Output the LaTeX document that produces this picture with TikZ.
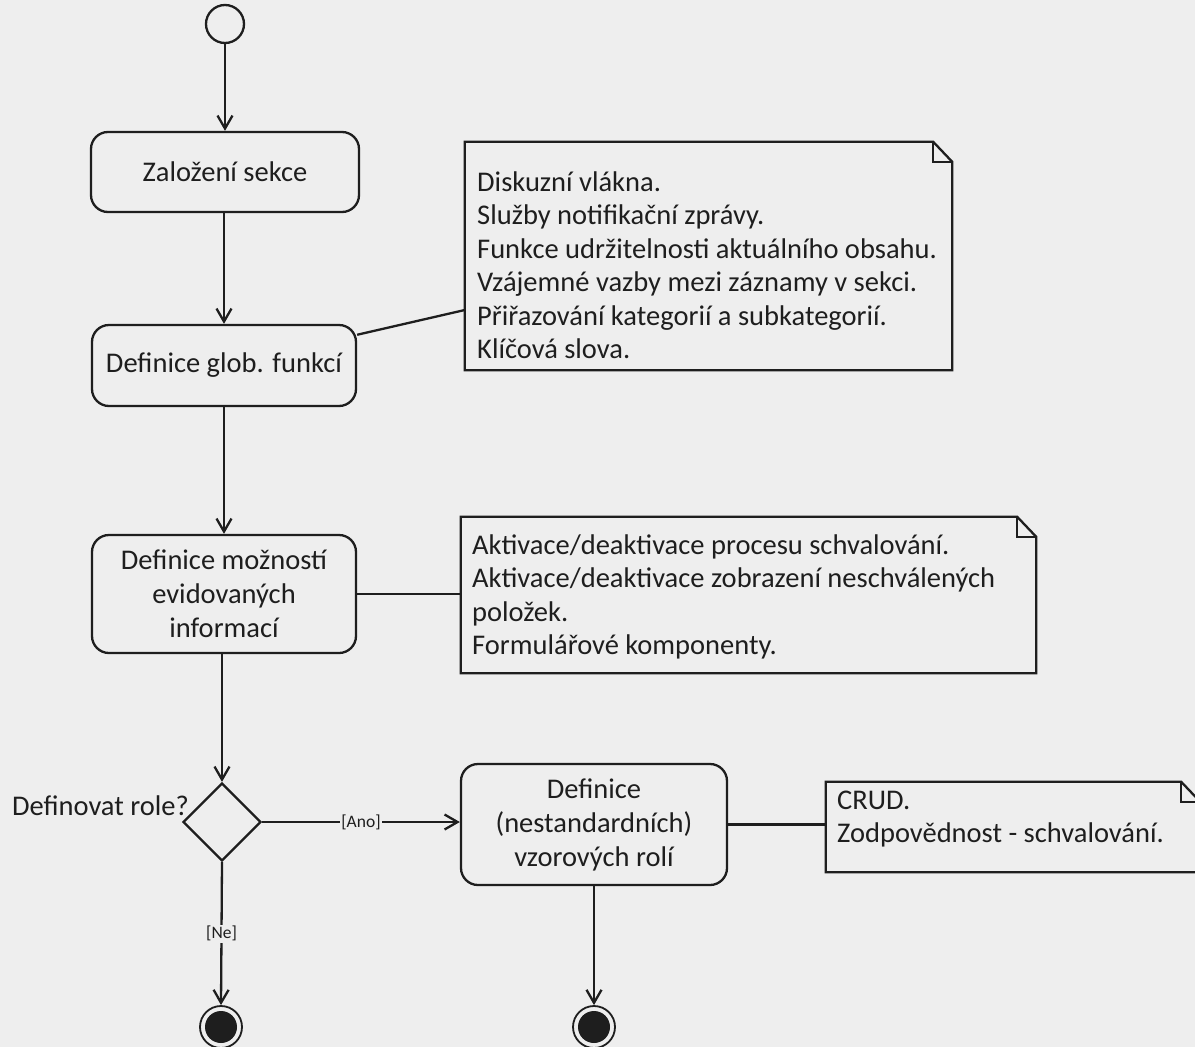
\documentclass[tikz,border=0pt]{standalone}
\usepackage{fontspec}
\setmainfont{Carlito}
\usetikzlibrary{shapes.geometric,arrows.meta}
\definecolor{paper}{RGB}{238,238,238}
\definecolor{ink}{RGB}{30,30,30}
\tikzset{
  lw/.style={line width=2.3pt, draw=ink},
  act/.style={lw, rectangle, rounded corners=17pt, inner sep=0pt, align=center,
    font=\fontsize{28.5}{34}\selectfont, text=ink},
  initst/.style={lw, circle, minimum size=38pt, inner sep=0pt},
  finalst/.style={line width=1.8pt, draw=ink, circle, minimum size=42pt, inner sep=0pt},
  decst/.style={lw, diamond, minimum width=78pt, minimum height=78pt, inner sep=0pt},
  notebox/.style={draw=none, rectangle, inner sep=0pt},
  notetxt/.style={inner sep=0pt, align=left, font=\fontsize{28.5}{33.5}\selectfont, text=ink},
  noteline/.style={lw, line join=miter},
  flow/.style={lw, -{Straight Barb[length=13pt,width=15pt]}},
  conn/.style={lw},
  lbl/.style={fill=paper, inner sep=1.5pt, font=\fontsize{17.5}{20}\selectfont, text=ink},
}
\begin{document}
\begin{tikzpicture}[x=1pt,y=-1pt]
\fill[paper] (0,0) rectangle (1195,1047);
\useasboundingbox (0,0) rectangle (1195,1047);
\clip (0,0) rectangle (1195,1047);

% activity nodes
\node[initst] (init) at (225,24) {};
\node[act, minimum width=268pt, minimum height=80pt] (zal) at (225,172) {Založení sekce};
\node[act, minimum width=264pt, minimum height=81pt] (glob) at (224,365.5) {Definice glob. funkcí};
\node[act, minimum width=264pt, minimum height=118pt] (mozn) at (224,594) {Definice možností\\evidovaných\\informací};
\node[decst] (dec) at (222,822) {};
\node[notetxt, anchor=east] (q) at (189,806) {Definovat role?};
\node[act, minimum width=266pt, minimum height=121pt] (role) at (594,824.5) {Definice\\(nestandardních)\\vzorových rolí};
\node[finalst] (end1) at (221,1027) {};
\node[finalst] (end2) at (594,1027) {};
\fill[ink] (end1.center) circle (16pt);
\fill[ink] (end2.center) circle (16pt);

% notes
\node[notebox, minimum width=487pt, minimum height=228pt] (n1) at (708.5,256) {};
\node[notetxt, anchor=west] (n1t) at (477,265) {Diskuzní vlákna.\\Služby notifikační zprávy.\\Funkce udržitelnosti aktuálního obsahu.\\Vzájemné vazby mezi záznamy v sekci.\\Přiřazování kategorií a subkategorií.\\Klíčová slova.};
\node[notebox, minimum width=575pt, minimum height=156pt] (n2) at (748.5,595) {};
\node[notetxt, anchor=west] (n2t) at (472,597) {Aktivace/deaktivace procesu schvalování.\\Aktivace/deaktivace zobrazení neschválených\\položek.\\Formulářové komponenty.};
\node[notebox, minimum width=374pt, minimum height=90pt] (n3) at (1013,827) {};
\node[notetxt, anchor=west] (n3t) at (837,819) {CRUD.\\Zodpovědnost - schvalování.};

\foreach \n in {n1,n2,n3}{
  \draw[noteline] (\n.north west) -- ([xshift=-19pt]\n.north east) -- ([yshift=-20pt]\n.north east)
    -- (\n.south east) -- (\n.south west) -- cycle;
  \draw[noteline] ([xshift=-19pt]\n.north east) -- ([xshift=-19pt,yshift=-20pt]\n.north east)
    -- ([yshift=-20pt]\n.north east);
}

% control flow
\draw[flow] (init) -- (zal);
\draw[flow] (zal.south -| glob.north) -- (glob.north);
\draw[flow] (glob) -- (mozn);
\draw[flow] (mozn.south -| dec.north) -- (dec.north);
\draw[flow] (dec.east) -- node[lbl] {[Ano]} (role.west |- dec.east);
\draw[flow] (dec.south) -- node[lbl, pos=0.5] {[Ne]} (end1.north);
\draw[flow] (role.south) -- (end2.north);

% note anchors
\draw[conn] (glob.13) -- ([yshift=-54pt]n1.west);
\draw[conn] (mozn.east) -- (n2.west |- mozn.east);
\draw[conn] (role.east) -- (n3.west |- role.east);
\end{tikzpicture}
\end{document}
